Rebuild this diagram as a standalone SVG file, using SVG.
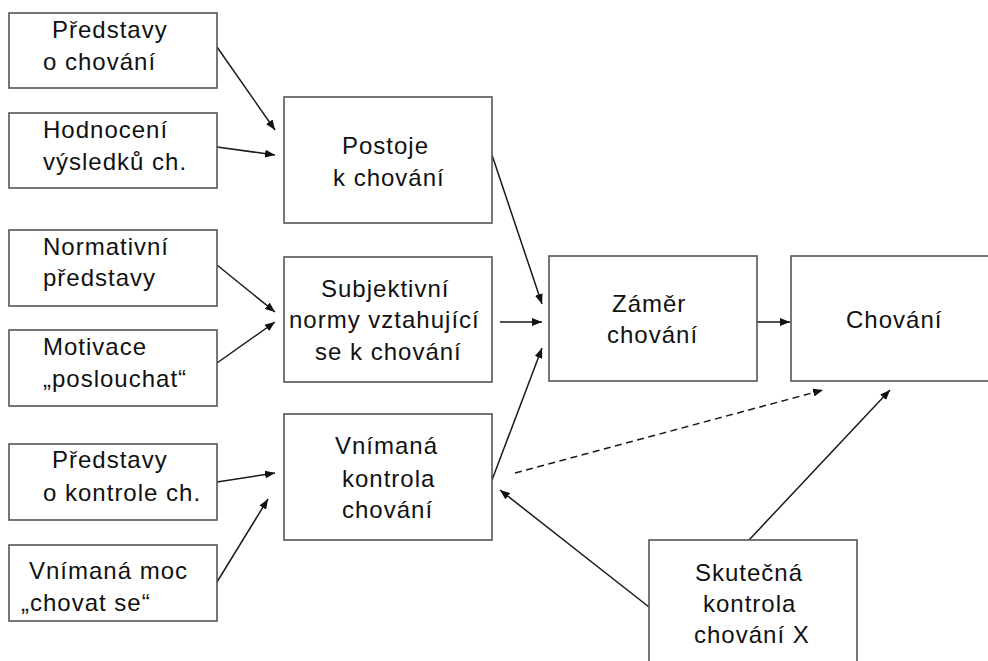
<svg xmlns="http://www.w3.org/2000/svg" width="988" height="661" viewBox="0 0 988 661">
  <style>
    .box { fill: #ffffff; stroke: #555555; stroke-width: 1.6; }
    .lbl { font-family: "Liberation Sans", Arial, sans-serif; font-size: 24px; fill: #111111; letter-spacing: 1px; }
    .link { fill: none; stroke: #1a1a1a; stroke-width: 1.5; marker-end: url(#arrow); }
    .dash { stroke-dasharray: 7 4.5; }
  </style>
  <defs>
    <marker id="arrow" viewBox="0 0 10 8" refX="10" refY="4" markerWidth="10" markerHeight="8" markerUnits="userSpaceOnUse" orient="auto">
      <path d="M0,0 L10,4 L0,8 z" fill="#111111"/>
    </marker>
  </defs>
  <rect x="0" y="0" width="988" height="661" fill="#ffffff"/>

  <!-- connectors -->
  <g id="connectors">
    <line class="link" x1="217" y1="47" x2="275" y2="130"/>
    <line class="link" x1="217" y1="147" x2="275" y2="155"/>
    <line class="link" x1="217" y1="265" x2="275" y2="312"/>
    <line class="link" x1="217" y1="363" x2="275" y2="322"/>
    <line class="link" x1="217" y1="482" x2="275" y2="473"/>
    <line class="link" x1="217" y1="582" x2="268" y2="499"/>
    <line class="link" x1="492" y1="155" x2="542" y2="304"/>
    <line class="link" x1="500" y1="322" x2="542" y2="322"/>
    <line class="link" x1="492" y1="480" x2="542" y2="348"/>
    <line class="link" x1="757" y1="322" x2="790" y2="322"/>
    <line class="link dash" x1="515" y1="473" x2="823" y2="390"/>
    <line class="link" x1="749" y1="540" x2="890" y2="390"/>
    <line class="link" x1="649" y1="607" x2="500" y2="490"/>
  </g>

  <!-- inputs -->
  <g id="predstavy-chovani">
    <rect class="box" x="9" y="13" width="208" height="75"/>
    <text class="lbl" x="52" y="38">Představy</text>
    <text class="lbl" x="43" y="70">o chování</text>
  </g>
  <g id="hodnoceni">
    <rect class="box" x="9" y="113" width="208" height="75"/>
    <text class="lbl" x="43" y="138">Hodnocení</text>
    <text class="lbl" x="43" y="170">výsledků ch.</text>
  </g>
  <g id="normativni">
    <rect class="box" x="9" y="230" width="208" height="76"/>
    <text class="lbl" x="43" y="255">Normativní</text>
    <text class="lbl" x="43" y="286">představy</text>
  </g>
  <g id="motivace">
    <rect class="box" x="9" y="330" width="208" height="76"/>
    <text class="lbl" x="43" y="355">Motivace</text>
    <text class="lbl" x="43" y="387">„poslouchat“</text>
  </g>
  <g id="predstavy-kontrola">
    <rect class="box" x="9" y="444" width="208" height="76"/>
    <text class="lbl" x="52" y="468">Představy</text>
    <text class="lbl" x="43" y="501">o kontrole ch.</text>
  </g>
  <g id="vnimana-moc">
    <rect class="box" x="9" y="545" width="208" height="76"/>
    <text class="lbl" x="29" y="579">Vnímaná moc</text>
    <text class="lbl" x="21" y="611">„chovat se“</text>
  </g>

  <!-- middle column -->
  <g id="postoje">
    <rect class="box" x="284" y="97" width="208" height="126"/>
    <text class="lbl" x="342" y="154">Postoje</text>
    <text class="lbl" x="333" y="186">k chování</text>
  </g>
  <g id="subjektivni-normy">
    <rect class="box" x="284" y="257" width="208" height="125"/>
    <text class="lbl" x="321" y="297">Subjektivní</text>
    <text class="lbl" x="289" y="328">normy vztahující</text>
    <text class="lbl" x="315" y="360">se k chování</text>
  </g>
  <g id="vnimana-kontrola">
    <rect class="box" x="284" y="414" width="208" height="126"/>
    <text class="lbl" x="335" y="454">Vnímaná</text>
    <text class="lbl" x="342" y="487">kontrola</text>
    <text class="lbl" x="342" y="518">chování</text>
  </g>

  <!-- outcomes -->
  <g id="zamer">
    <rect class="box" x="549" y="256" width="208" height="125"/>
    <text class="lbl" x="612" y="312">Záměr</text>
    <text class="lbl" x="607" y="343">chování</text>
  </g>
  <g id="chovani">
    <rect class="box" x="791" y="256" width="220" height="125"/>
    <text class="lbl" x="846" y="328">Chování</text>
  </g>
  <g id="skutecna-kontrola">
    <rect class="box" x="649" y="540" width="208" height="140"/>
    <text class="lbl" x="695" y="581">Skutečná</text>
    <text class="lbl" x="703" y="612">kontrola</text>
    <text class="lbl" x="694" y="643">chování X</text>
  </g>
</svg>
